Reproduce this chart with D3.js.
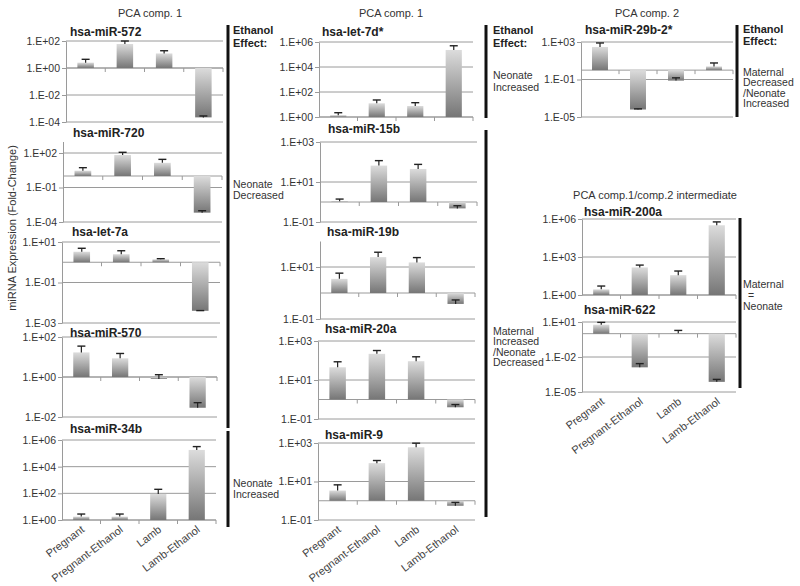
<!DOCTYPE html>
<html><head><meta charset="utf-8">
<script src="https://cdn.jsdelivr.net/npm/d3@7"></script>
<style>body{margin:0;background:#fff;} svg{display:block;font-family:"Liberation Sans",Arial,sans-serif;}</style>
</head><body><svg id="c" width="800" height="586"></svg>
<script>
// ---------- data ----------
const categories = ["Pregnant", "Pregnant-Ethanol", "Lamb", "Lamb-Ethanol"];
// fold-change values and error-bar cap values (value + error)
const mir572 = [2.5, 60, 12, 2.2e-4];       const mir572Cap = [4.4, 100, 19, 2.8e-4];
const mir720 = [2.9, 67, 14, 6.5e-4];       const mir720Cap = [5.3, 115, 28, 9.6e-4];
const let7a  = [3.3, 2.5, 1.4, 4e-3];       const let7aCap  = [4.9, 3.7, 1.5, 4.1e-3];
const mir570 = [17, 8.6, 0.8, 0.029];       const mir570Cap = [35, 15, 1.3, 0.052];
const mir34b = [1.8, 1.8, 90, 1.8e5];       const mir34bCap = [2.8, 2.8, 200, 3.2e5];
const let7d  = [1.4, 12.5, 7.6, 2.3e5];     const let7dCap  = [2.2, 23, 14, 5e5];
const mir15b = [1.1, 66, 45, 0.48];         const mir15bCap = [1.4, 117, 76, 0.65];
const mir19b = [3.5, 24, 15, 0.38];         const mir19bCap = [5.8, 37, 23, 0.54];
const mir20a = [45, 220, 92, 0.4];          const mir20aCap = [86, 325, 155, 0.55];
const mir9   = [3.4, 90, 600, 0.55];        const mir9Cap   = [6.7, 123, 980, 0.82];
const mir29b = [295, 6.3e-5, 0.076, 2.5];   const mir29bCap = [790, 7.4e-5, 0.15, 5.8];
const mir200a = [2.8, 150, 37, 3.2e5];      const mir200aCap = [5.1, 230, 78, 5.9e5];
const mir622 = [5.9, 1.3e-3, 1.1, 7.4e-5];  const mir622Cap = [9.3, 2.7e-3, 1.9, 1.2e-4];

const panelTitles = ["hsa-miR-572","hsa-miR-720","hsa-let-7a","hsa-miR-570","hsa-miR-34b",
  "hsa-let-7d*","hsa-miR-15b","hsa-miR-19b","hsa-miR-20a","hsa-miR-9",
  "hsa-miR-29b-2*","hsa-miR-200a","hsa-miR-622"];
const panelValues = [mir572,mir720,let7a,mir570,mir34b,let7d,mir15b,mir19b,mir20a,mir9,mir29b,mir200a,mir622];
const panelCaps = [mir572Cap,mir720Cap,let7aCap,mir570Cap,mir34bCap,let7dCap,mir15bCap,mir19bCap,mir20aCap,mir9Cap,mir29bCap,mir200aCap,mir622Cap];
// axis domains (exponents) and tick step in decades
const panelDomains = [[-4,2],[-4,3],[-3,1],[-2,2],[0,6],[0,6],[-1,3],[-1,2],[-1,3],[-1,3],[-5,3],[0,6],[-5,1]];
const panelSteps = [2,3,2,2,2,2,2,2,2,2,4,3,3];

// ---------- layout ----------
const layout = [
  {x0:66,x1:223,yb:122,yt:41,tx:70,ty:32},
  {x0:63,x1:222,yb:222,yt:141.5,tx:73,ty:133},
  {x0:62,x1:220,yb:323,yt:242,tx:72,ty:232},
  {x0:62,x1:217,yb:417,yt:337,tx:70,ty:333},
  {x0:62,x1:216,yb:520,yt:440,tx:70,ty:429,showX:true},
  {x0:319,x1:473,yb:117,yt:42,tx:322,ty:32},
  {x0:320,x1:477,yb:222,yt:142,tx:328,ty:129},
  {x0:320,x1:475,yb:319,yt:241,tx:327,ty:232},
  {x0:318,x1:475,yb:419,yt:341,tx:325,ty:329},
  {x0:318,x1:475,yb:520,yt:443,tx:325,ty:435,showX:true},
  {x0:581,x1:733,yb:117,yt:42,tx:585,ty:30},
  {x0:582,x1:736,yb:295,yt:219,tx:584,ty:212},
  {x0:582,x1:736,yb:392,yt:322,tx:584,ty:310,showX:true}
];

const svg = d3.select("#c");
const defs = svg.append("defs");
const g1 = defs.append("linearGradient").attr("id","barGrad").attr("x1",0).attr("y1",0).attr("x2",0).attr("y2",1);
g1.append("stop").attr("offset","0%").attr("stop-color","#dcdcdc");
g1.append("stop").attr("offset","100%").attr("stop-color","#767676");

const fmt = d => { const e = Math.round(Math.log10(d)); return "1.E" + (e < 0 ? "-" : "+") + String(Math.abs(e)).padStart(2,"0"); };

panelTitles.forEach((title, i) => {
  const L = layout[i];
  const [emin, emax] = panelDomains[i];
  const y = d3.scaleLog().domain([Math.pow(10,emin), Math.pow(10,emax)]).range([L.yb, L.yt]);
  const x = d3.scaleBand().domain(categories).range([L.x0, L.x1]).padding(0);
  const ticks = [];
  for (let e = emin; e <= emax; e += panelSteps[i]) ticks.push(Math.pow(10, e));
  const g = svg.append("g");
  // gridlines
  g.selectAll("line.grid").data(ticks).join("line")
    .attr("x1", L.x0).attr("x2", L.x1).attr("y1", d => y(d)).attr("y2", d => y(d))
    .attr("stroke", "#9a9a9a").attr("stroke-width", 1);
  // baseline at 1
  const yb1 = y(1);
  g.append("line").attr("x1", L.x0).attr("x2", L.x1).attr("y1", yb1).attr("y2", yb1)
    .attr("stroke", "#9a9a9a").attr("stroke-width", 1);
  // category tick marks on baseline
  const bounds = categories.map(c => x(c)).slice(1).concat([L.x1]);
  g.selectAll("line.ct").data(bounds).join("line")
    .attr("x1", d => d).attr("x2", d => d).attr("y1", yb1).attr("y2", yb1 + 4)
    .attr("stroke", "#9a9a9a");
  // y axis
  const ax = g.append("g").attr("transform", `translate(${L.x0},0)`)
    .call(d3.axisLeft(y).tickValues(ticks).tickFormat(fmt).tickSize(4).tickSizeOuter(0));
  ax.select(".domain").attr("stroke", "#9a9a9a");
  ax.selectAll(".tick line").attr("stroke", "#9a9a9a");
  ax.selectAll(".tick text").attr("fill", "#333").attr("font-size", "10.5px")
    .attr("font-family", '"Liberation Sans",Arial,sans-serif').attr("x", -6);
  // bars
  const bw = x.bandwidth() * 0.42;
  const vals = panelValues[i], caps = panelCaps[i];
  g.selectAll("rect.bar").data(categories).join("rect")
    .attr("x", c => x(c) + (x.bandwidth() - bw) / 2)
    .attr("y", (c, j) => Math.min(y(vals[j]), yb1))
    .attr("width", bw)
    .attr("height", (c, j) => Math.abs(y(vals[j]) - yb1))
    .attr("fill", "url(#barGrad)");
  // error bars
  categories.forEach((c, j) => {
    const cx = x(c) + x.bandwidth() / 2;
    const ya = y(vals[j]), yc = y(caps[j]);
    g.append("line").attr("x1", cx).attr("x2", cx).attr("y1", ya).attr("y2", yc).attr("stroke", "#222").attr("stroke-width", 1.2);
    g.append("line").attr("x1", cx - 4).attr("x2", cx + 4).attr("y1", yc).attr("y2", yc).attr("stroke", "#222").attr("stroke-width", 1.4);
  });
  // title
  g.append("text").attr("x", L.tx).attr("y", L.ty).attr("dy", "0.35em")
    .attr("font-size", "12px").attr("font-weight", "bold").attr("fill", "#222").text(title);
  // x labels
  if (L.showX) {
    g.selectAll("text.xl").data(categories).join("text")
      .attr("transform", c => `translate(${x(c) + x.bandwidth()/2 + 4},${L.yb + 11}) rotate(-37)`)
      .attr("text-anchor", "end").attr("font-size", "11px").attr("fill", "#444").text(c => c);
  }
});

// column headers
const headers = [["PCA comp. 1",150,13],["PCA comp. 1",391,13],["PCA comp. 2",647,13],["PCA comp.1/comp.2 intermediate",655,195]];
headers.forEach(h => svg.append("text").attr("x", h[1]).attr("y", h[2]).attr("dy","0.35em")
  .attr("text-anchor","middle").attr("font-size","11px").attr("fill","#333").text(h[0]));

// y axis title
svg.append("text").attr("transform","translate(12,228) rotate(-90)").attr("text-anchor","middle")
  .attr("dy","0.35em").attr("font-size","11px").attr("fill","#333").text("miRNA Expression (Fold-Change)");

// group brackets
const brackets = [[228,25,428],[228,431,527],[486,25,118],[486,130,517],[737,25,117],[740,218,388]];
brackets.forEach(b => svg.append("line").attr("x1",b[0]).attr("x2",b[0]).attr("y1",b[1]).attr("y2",b[2])
  .attr("stroke","#111").attr("stroke-width",3));

// effect labels
const boldLabels = [[233,30,"Ethanol"],[233,43,"Effect:"],[493,30,"Ethanol"],[493,43,"Effect:"],[743,29,"Ethanol"],[743,41,"Effect:"]];
boldLabels.forEach(t => svg.append("text").attr("x",t[0]).attr("y",t[1]).attr("dy","0.35em")
  .attr("font-size","11px").attr("font-weight","bold").attr("fill","#222").text(t[2]));
const effectLabels = [
  [233,184,"Neonate"],[233,195,"Decreased"],
  [233,483,"Neonate"],[233,494,"Increased"],
  [493,75,"Neonate"],[493,87,"Increased"],
  [493,331,"Maternal"],[493,341.5,"Increased"],[493,352,"/Neonate"],[493,362.5,"Decreased"],
  [743,72,"Maternal"],[743,82.5,"Decreased"],[743,93,"/Neonate"],[743,103.5,"Increased"],
  [743,284,"Maternal"],[748,295,"="],[743,306,"Neonate"]
];
effectLabels.forEach(t => svg.append("text").attr("x",t[0]).attr("y",t[1]).attr("dy","0.35em")
  .attr("font-size","10.5px").attr("fill","#333").text(t[2]));
</script></body></html>
